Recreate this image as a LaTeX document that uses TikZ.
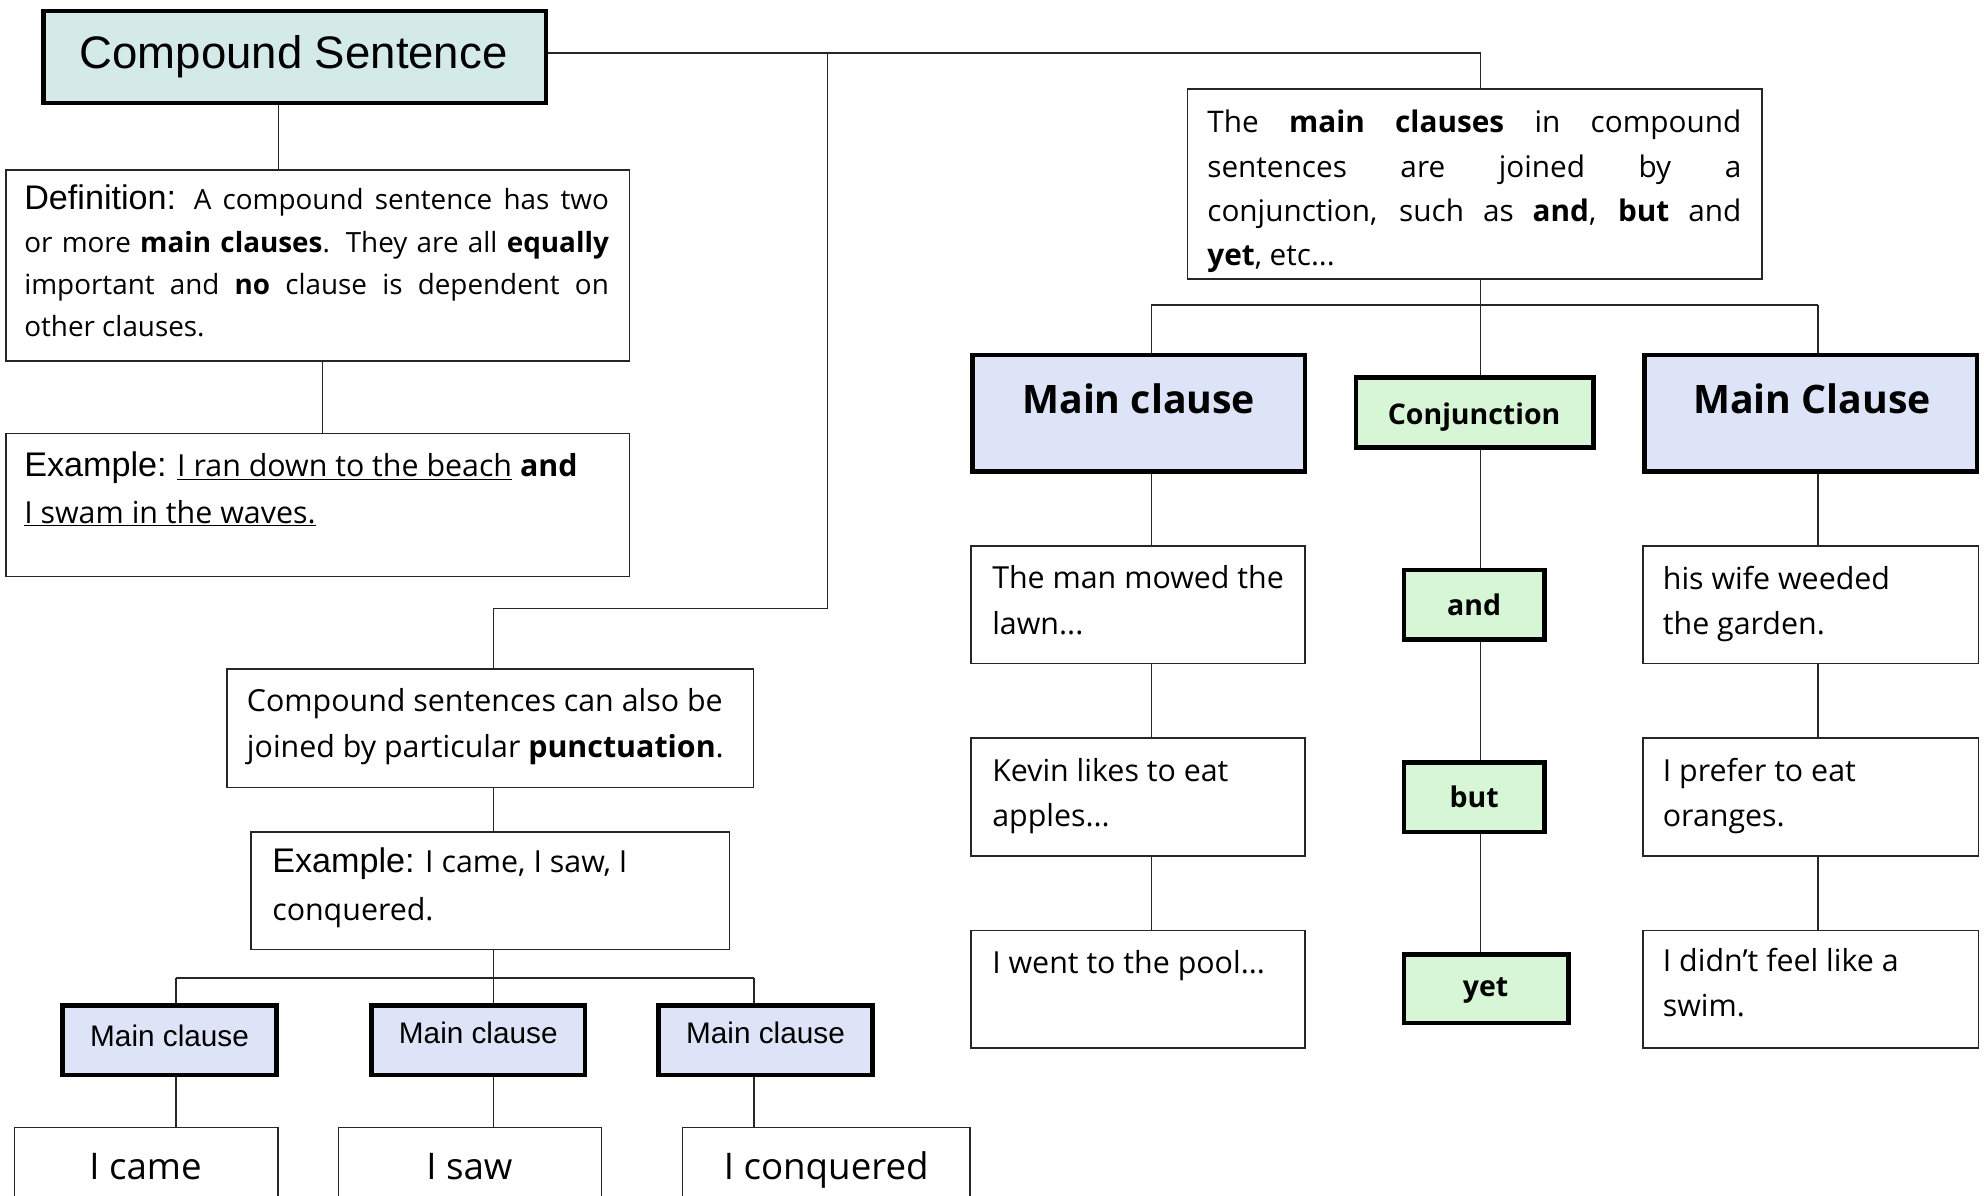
\documentclass[tikz,border=0pt]{standalone}
\usepackage{fontspec}
\setmainfont{Open Sans}
\newfontfamily\arialf{Liberation Sans}
\usetikzlibrary{calc}
\definecolor{tealfill}{RGB}{212,234,232}
\definecolor{bluefill}{RGB}{222,228,248}
\definecolor{greenfill}{RGB}{214,246,214}
\newcommand{\jline}[2]{\makebox[#1][s]{#2}}
\begin{document}
\begin{tikzpicture}[x=1pt,y=-1pt,
 box/.style={draw=black!85, line width=1.3pt, fill=white, rectangle, inner sep=0pt},
 hbox/.style={draw=black, line width=3.5pt, rectangle, inner sep=0pt},
 conn/.style={draw=black!85, line width=1.3pt},
 txt/.style={anchor=north west, inner sep=0pt, align=left, font=\fontsize{24}{36}\selectfont},
 ctxt/.style={inner sep=0pt, align=center},
 arialhead/.style={font=\arialf\fontsize{23.5}{26}\selectfont},
 bigbold/.style={font=\bfseries\fontsize{31}{36}\selectfont},
 conjbold/.style={font=\bfseries\fontsize{22.5}{26}\selectfont},
 bottomtxt/.style={anchor=base, font=\fontsize{29}{34}\selectfont}
]
\useasboundingbox (0,0) rectangle (1568,945);
\clip (0,0) rectangle (1568,945);
\fill[white] (0,0) rectangle (1568,945);

% ---------- left part ----------
\node[hbox, fill=tealfill, minimum width=397pt, minimum height=73pt] (title) at (233,45) {};
\node[ctxt, font=\arialf\fontsize{36}{40}\selectfont] (titleT) at (232,45) {Compound Sentence};

\node[box, minimum width=493pt, minimum height=151pt] (def) at (251,210) {};
\node[txt, font=\fontsize{22}{33.5}\selectfont] (defT) at (19,146) {%
\jline{462pt}{{\arialf\fontsize{27}{30}\selectfont Definition:} A compound sentence has two}\\
\jline{462pt}{or more \textbf{main clauses}. They are all \textbf{equally}}\\
\jline{462pt}{important and \textbf{no} clause is dependent on}\\
other clauses.};

\node[box, minimum width=493pt, minimum height=113pt] (ex1) at (251,399) {};
\node[txt, font=\fontsize{24}{37}\selectfont] (ex1T) at (19,357) {%
{\arialf\fontsize{27}{30}\selectfont Example:} \underline{I ran down to the beach} \textbf{and}\\
\underline{I swam in the waves.}};

\node[box, minimum width=416pt, minimum height=94pt] (punc) at (387.5,575.5) {};
\node[txt] (puncT) at (195,544) {Compound sentences can also be\\
joined by particular \textbf{punctuation}.};

\node[box, minimum width=378pt, minimum height=93pt] (ex2) at (387.5,704) {};
\node[txt, font=\fontsize{24}{38}\selectfont] (ex2T) at (215,670) {%
{\arialf\fontsize{27}{30}\selectfont Example:} I came, I saw, I\\
conquered.};

\node[hbox, fill=bluefill, minimum width=169pt, minimum height=55pt] (mc1) at (134,822) {};
\node[hbox, fill=bluefill, minimum width=169pt, minimum height=55pt] (mc2) at (378,822) {};
\node[hbox, fill=bluefill, minimum width=169pt, minimum height=55pt] (mc3) at (605,822) {};
\node[ctxt, arialhead] (mc1T) at (134,819) {Main clause};
\node[ctxt, arialhead] (mc2T) at (378,816) {Main clause};
\node[ctxt, arialhead] (mc3T) at (605,816) {Main clause};

\node[box, minimum width=208pt, minimum height=80pt] (b1) at (115.5,931) {};
\node[box, minimum width=208pt, minimum height=80pt] (b2) at (371.5,931) {};
\node[box, minimum width=227pt, minimum height=80pt] (b3) at (653,931) {};
\node[ctxt, bottomtxt] (b1T) at (115,932) {I came};
\node[ctxt, bottomtxt] (b2T) at (371,932) {I saw};
\node[ctxt, bottomtxt] (b3T) at (653,932) {I conquered};

% ---------- right part ----------
\node[box, minimum width=454pt, minimum height=150pt] (cdesc) at (1165.5,145.5) {};
\node[txt, font=\fontsize{23.5}{35}\selectfont] (cdescT) at (954,87) {%
\jline{422pt}{The \textbf{main} \textbf{clauses} in compound}\\
\jline{422pt}{sentences are joined by a}\\
\jline{422pt}{conjunction, such as \textbf{and}, \textbf{but} and}\\
\textbf{yet}, etc...};

\node[hbox, fill=bluefill, minimum width=263pt, minimum height=92pt] (mcl) at (900,326.5) {};
\node[hbox, fill=greenfill, minimum width=188pt, minimum height=55pt] (conj) at (1165.5,326) {};
\node[hbox, fill=bluefill, minimum width=263pt, minimum height=92pt] (mcr) at (1431,326.5) {};
\node[ctxt, bigbold] (mclT) at (900,315) {Main clause};
\node[ctxt, conjbold] (conjT) at (1165,330) {Conjunction};
\node[ctxt, bigbold] (mcrT) at (1432,315) {Main Clause};

\node[box, minimum width=264pt, minimum height=93pt] (l1) at (899.5,478) {};
\node[box, minimum width=264pt, minimum height=93pt] (l2) at (899.5,630) {};
\node[box, minimum width=264pt, minimum height=93pt] (l3) at (899.5,782) {};
\node[txt] (l1T) at (784,447) {The man mowed the\\ lawn...};
\node[txt] (l2T) at (784,599) {Kevin likes to eat\\ apples...};
\node[txt] (l3T) at (784,751) {I went to the pool...};

\node[hbox, fill=greenfill, minimum width=111pt, minimum height=55pt] (and) at (1165,478) {};
\node[hbox, fill=greenfill, minimum width=111pt, minimum height=55pt] (but) at (1165,630) {};
\node[hbox, fill=greenfill, minimum width=130pt, minimum height=54pt] (yet) at (1174.5,781.5) {};
\node[ctxt, conjbold] (andT) at (1165,478) {and};
\node[ctxt, conjbold] (butT) at (1165,630) {but};
\node[ctxt, conjbold] (yetT) at (1174,783) {yet};

\node[box, minimum width=265pt, minimum height=93pt] (r1) at (1431,478) {};
\node[box, minimum width=265pt, minimum height=93pt] (r2) at (1431,630) {};
\node[box, minimum width=265pt, minimum height=93pt] (r3) at (1431,782) {};
\node[txt] (r1T) at (1314,447) {his wife weeded\\ the garden.};
\node[txt] (r2T) at (1314,599) {I prefer to eat\\ oranges.};
\node[txt] (r3T) at (1314,749) {I didn't feel like a\\ swim.};

% ---------- connector guides ----------
\coordinate (xT) at (220,0);
\coordinate (xD) at (255,0);
\coordinate (xP) at (390,0);
\coordinate (xB) at (654,0);
\coordinate (xC) at (1170,0);
\coordinate (xL) at (910,0);
\coordinate (xR) at (1437,0);
\coordinate (x1) at (139,0);
\coordinate (x3) at (596,0);
\coordinate (yTop) at (0,42);
\coordinate (yBr) at (0,481);
\coordinate (yJ1) at (0,773);
\coordinate (yJ2) at (0,241);

% ---------- connectors ----------
\draw[conn] (title.east |- yTop) -- (yTop -| xC) -- (cdesc.north -| xC);
\draw[conn] (yTop -| xB) -- (yBr -| xB) -- (yBr -| xP) -- (punc.north -| xP);
\draw[conn] (title.south -| xT) -- (def.north -| xT);
\draw[conn] (def.south -| xD) -- (ex1.north -| xD);
\draw[conn] (punc.south -| xP) -- (ex2.north -| xP);
\draw[conn] (ex2.south -| xP) -- (mc2.north -| xP);
\draw[conn] (yJ1 -| x1) -- (yJ1 -| x3);
\draw[conn] (yJ1 -| x1) -- (mc1.north -| x1);
\draw[conn] (yJ1 -| x3) -- (mc3.north -| x3);
\draw[conn] (mc1.south -| x1) -- (b1.north -| x1);
\draw[conn] (mc2.south -| xP) -- (b2.north -| xP);
\draw[conn] (mc3.south -| x3) -- (b3.north -| x3);

\draw[conn] (cdesc.south -| xC) -- (conj.north -| xC);
\draw[conn] (yJ2 -| xL) -- (yJ2 -| xR);
\draw[conn] (yJ2 -| xL) -- (mcl.north -| xL);
\draw[conn] (yJ2 -| xR) -- (mcr.north -| xR);
\draw[conn] (mcl.south -| xL) -- (l1.north -| xL);
\draw[conn] (l1.south -| xL) -- (l2.north -| xL);
\draw[conn] (l2.south -| xL) -- (l3.north -| xL);
\draw[conn] (conj.south -| xC) -- (and.north -| xC);
\draw[conn] (and.south -| xC) -- (but.north -| xC);
\draw[conn] (but.south -| xC) -- (yet.north -| xC);
\draw[conn] (mcr.south -| xR) -- (r1.north -| xR);
\draw[conn] (r1.south -| xR) -- (r2.north -| xR);
\draw[conn] (r2.south -| xR) -- (r3.north -| xR);
\end{tikzpicture}
\end{document}
